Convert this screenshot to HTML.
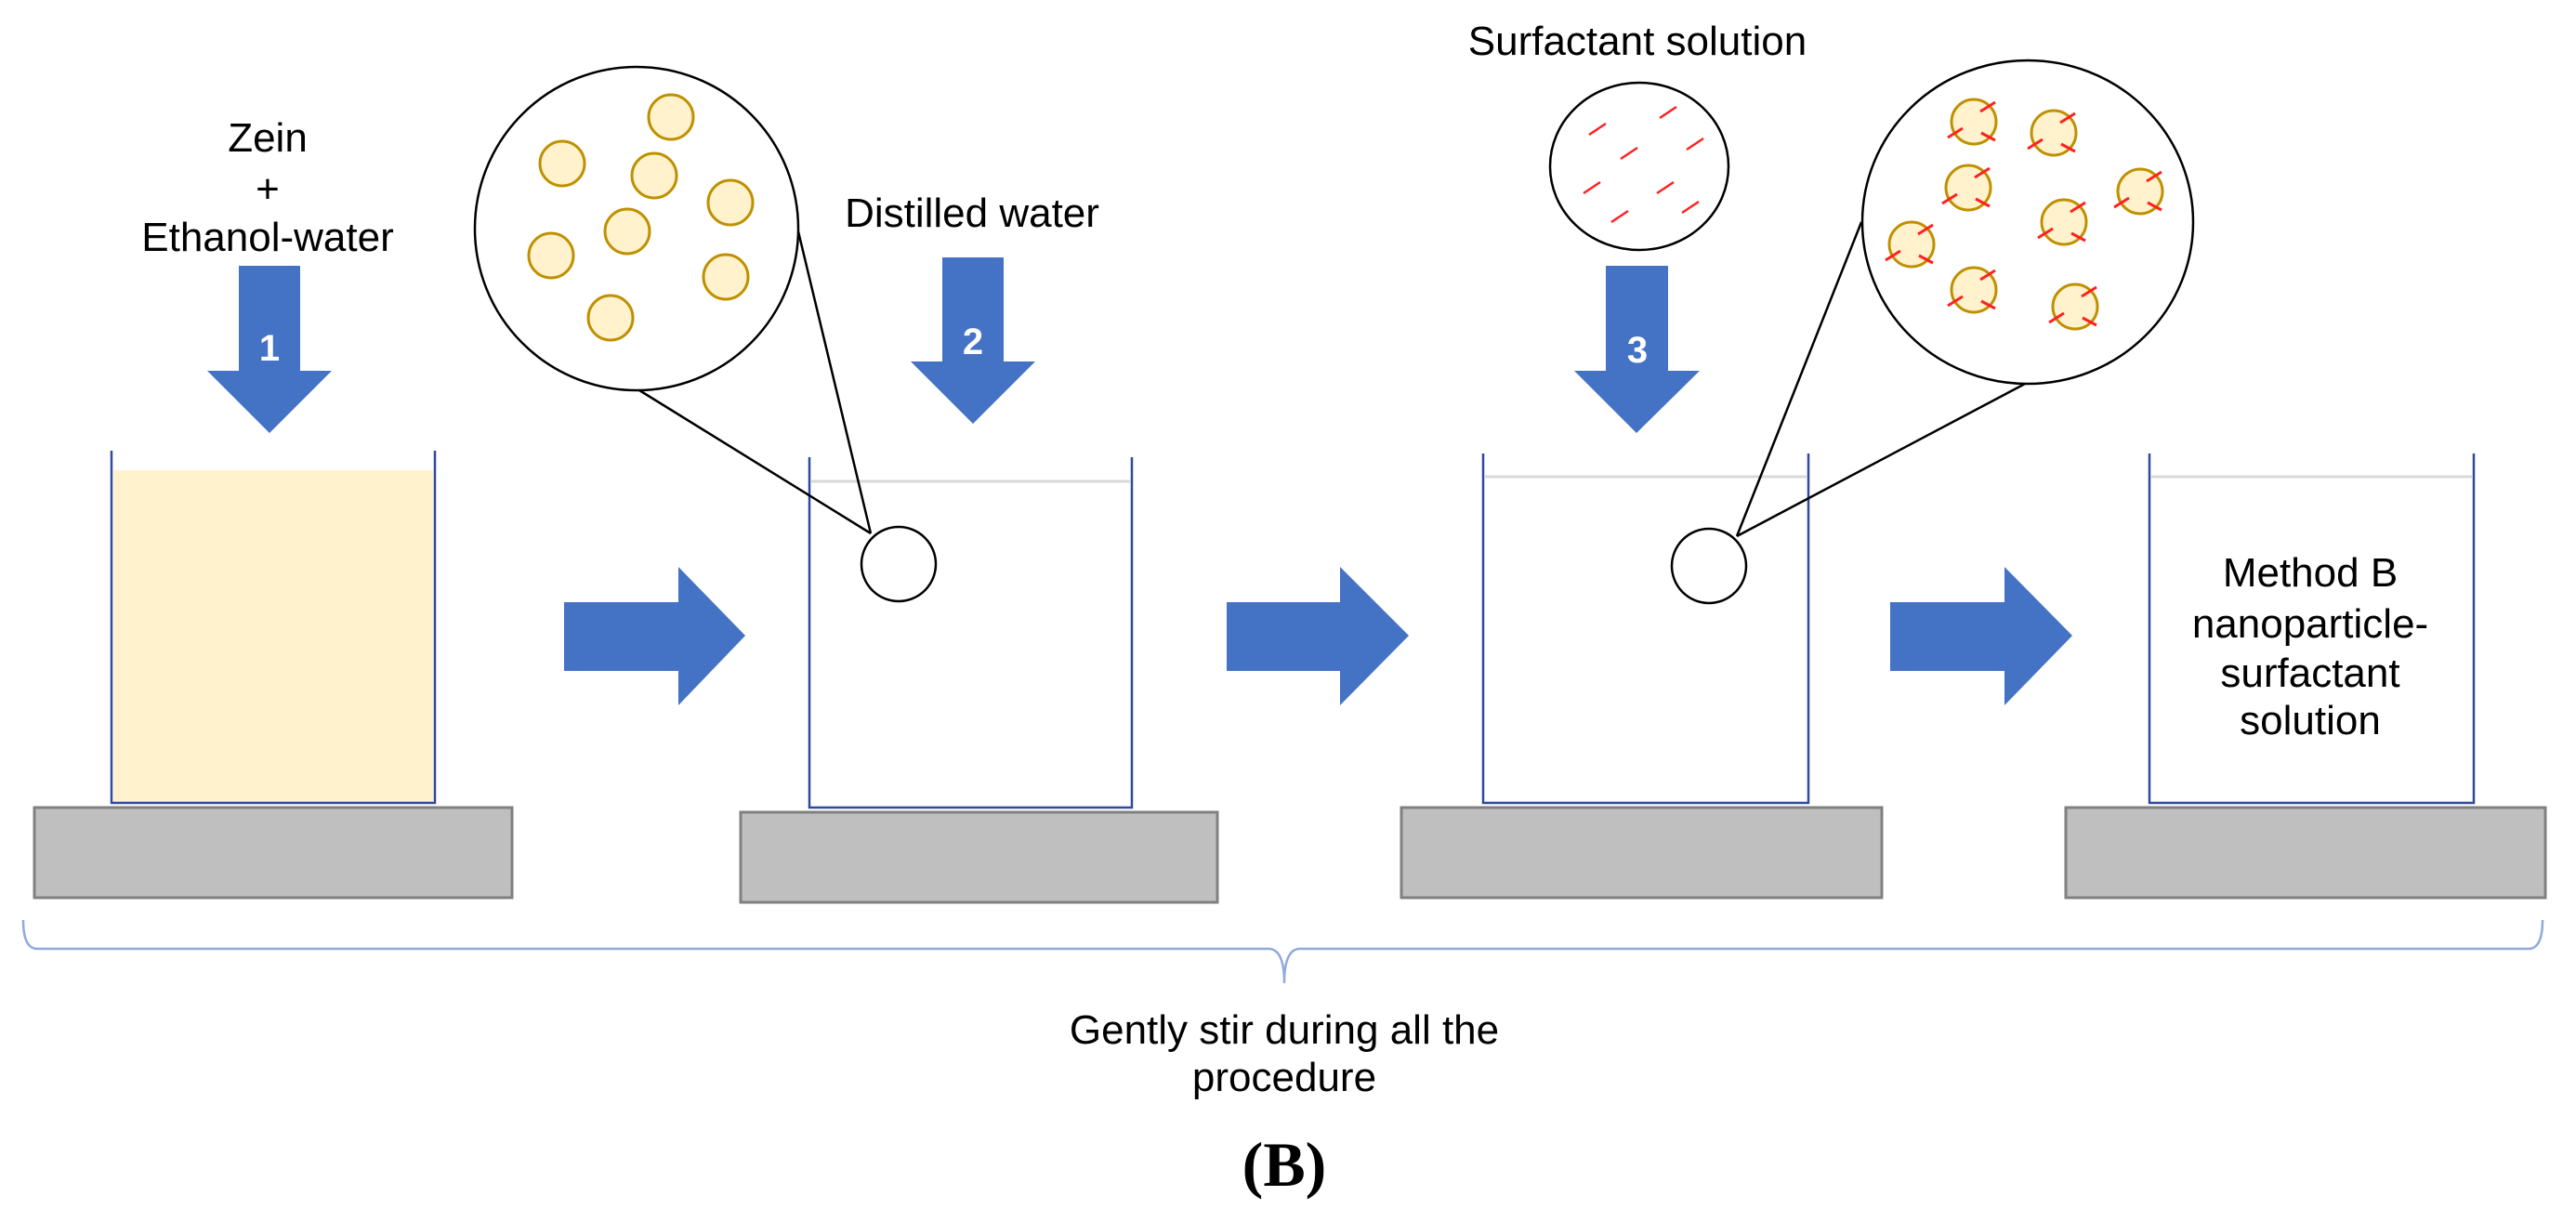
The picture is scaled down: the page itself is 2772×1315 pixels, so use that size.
<!DOCTYPE html>
<html><head><meta charset="utf-8"><style>
html,body{margin:0;padding:0;background:#fff;}
svg{display:block;}
text{font-family:"Liberation Sans",Arial,sans-serif;fill:#000;}
</style></head><body>
<svg width="2772" height="1315" viewBox="0 0 2772 1315" xmlns="http://www.w3.org/2000/svg">
<defs>
<g id="p"><circle r="24" fill="#fff2cc" stroke="#bf9000" stroke-width="3"/></g>
<g id="ps"><circle r="24" fill="#fff2cc" stroke="#bf9000" stroke-width="3"/>
<g stroke="#ff2020" stroke-width="3"><line x1="7" y1="-11" x2="23" y2="-21"/><line x1="-28" y1="17" x2="-12" y2="7"/><line x1="8" y1="12" x2="23" y2="20"/></g></g>
<line id="d" x1="-9" y1="6" x2="9" y2="-6" stroke="#ff2020" stroke-width="2.5"/>
</defs>

<!-- plates -->
<g fill="#bfbfbf" stroke="#808080" stroke-width="3">
<rect x="37" y="869" width="514" height="97"/>
<rect x="797" y="874" width="513" height="97"/>
<rect x="1508" y="869" width="517" height="97"/>
<rect x="2223" y="869" width="516" height="97"/>
</g>

<!-- beaker 1 -->
<rect x="122" y="506" width="344" height="358" fill="#fff2cc"/>
<polyline points="120,485 120,864 468,864 468,485" fill="none" stroke="#2f4a9a" stroke-width="2.5"/>
<!-- beaker 2 -->
<line x1="873" y1="518" x2="1216" y2="518" stroke="#d9d9d9" stroke-width="3"/>
<polyline points="871,492 871,869 1218,869 1218,492" fill="none" stroke="#2f4a9a" stroke-width="2.5"/>
<!-- beaker 3 -->
<line x1="1598" y1="513" x2="1944" y2="513" stroke="#d9d9d9" stroke-width="3"/>
<polyline points="1596,488 1596,864 1946,864 1946,488" fill="none" stroke="#2f4a9a" stroke-width="2.5"/>
<!-- beaker 4 -->
<line x1="2315" y1="513" x2="2660" y2="513" stroke="#d9d9d9" stroke-width="3"/>
<polyline points="2313,488 2313,864 2662,864 2662,488" fill="none" stroke="#2f4a9a" stroke-width="2.5"/>

<!-- down arrows -->
<g fill="#4472c4">
<polygon points="257,286 323,286 323,399 357,399 290,466 223,399 257,399"/>
<polygon points="1014,277 1080,277 1080,389 1114,389 1047,456 980,389 1014,389"/>
<polygon points="1728,286 1795,286 1795,399 1829,399 1761,466 1694,399 1728,399"/>
</g>
<g font-size="40" font-weight="bold" text-anchor="middle" style="fill:#fff">
<text x="290" y="388" style="fill:#fff">1</text>
<text x="1047" y="381" style="fill:#fff">2</text>
<text x="1762" y="390" style="fill:#fff">3</text>
</g>

<!-- right arrows -->
<g fill="#4472c4">
<polygon points="607,648 730,648 730,610 802,684 730,759 730,722 607,722"/>
<polygon points="1320,648 1442,648 1442,610 1516,684 1442,759 1442,722 1320,722"/>
<polygon points="2034,648 2157,648 2157,610 2230,684 2157,759 2157,722 2034,722"/>
</g>

<!-- magnifier 1 -->
<g fill="none" stroke="#000" stroke-width="2.5">
<line x1="688" y1="420" x2="937" y2="574"/>
<line x1="859" y1="249" x2="937" y2="574"/>
<circle cx="685" cy="246" r="174" fill="#fff"/>
<circle cx="967" cy="607" r="40" fill="#fff"/>
</g>
<use href="#p" x="722" y="126"/><use href="#p" x="605" y="176"/><use href="#p" x="704" y="189"/>
<use href="#p" x="786" y="218"/><use href="#p" x="675" y="249"/><use href="#p" x="593" y="275"/>
<use href="#p" x="781" y="298"/><use href="#p" x="657" y="342"/>

<!-- surfactant circle -->
<ellipse cx="1764" cy="179" rx="96" ry="90" fill="#fff" stroke="#000" stroke-width="2.5"/>
<use href="#d" x="1719" y="139"/><use href="#d" x="1795" y="121"/><use href="#d" x="1753" y="165"/>
<use href="#d" x="1824" y="155"/><use href="#d" x="1713" y="202"/><use href="#d" x="1792" y="202"/>
<use href="#d" x="1743" y="233"/><use href="#d" x="1819" y="223"/>

<!-- magnifier 2 -->
<g fill="none" stroke="#000" stroke-width="2.5">
<line x1="2003" y1="239" x2="1869" y2="577"/>
<line x1="2179" y1="413" x2="1869" y2="577"/>
<ellipse cx="2182" cy="239" rx="178" ry="174" fill="#fff"/>
<circle cx="1839" cy="609" r="40" fill="#fff"/>
</g>
<use href="#ps" x="2124" y="131"/><use href="#ps" x="2210" y="143"/><use href="#ps" x="2118" y="202"/>
<use href="#ps" x="2303" y="206"/><use href="#ps" x="2221" y="239"/><use href="#ps" x="2057" y="263"/>
<use href="#ps" x="2124" y="312"/><use href="#ps" x="2233" y="330"/>

<!-- labels -->
<g font-size="44" text-anchor="middle">
<text x="288" y="163">Zein</text>
<text x="288" y="218">+</text>
<text x="288" y="270">Ethanol-water</text>
<text x="1046" y="244">Distilled water</text>
<text x="1762" y="59">Surfactant solution</text>
<text x="2486" y="631">Method B</text>
<text x="2486" y="686">nanoparticle-</text>
<text x="2486" y="739">surfactant</text>
<text x="2486" y="790">solution</text>
<text x="1382" y="1123">Gently stir during all the</text>
<text x="1382" y="1174">procedure</text>
</g>

<!-- brace -->
<path d="M25,990 Q25,1021 40,1021 L1365,1021 Q1382,1021 1382,1058 Q1382,1021 1399,1021 L2721,1021 Q2736,1021 2736,990" fill="none" stroke="#8faadc" stroke-width="2.5"/>

<text x="1382" y="1276" font-size="68" font-weight="bold" text-anchor="middle" style="font-family:'Liberation Serif','Times New Roman',serif">(B)</text>
</svg>
</body></html>
